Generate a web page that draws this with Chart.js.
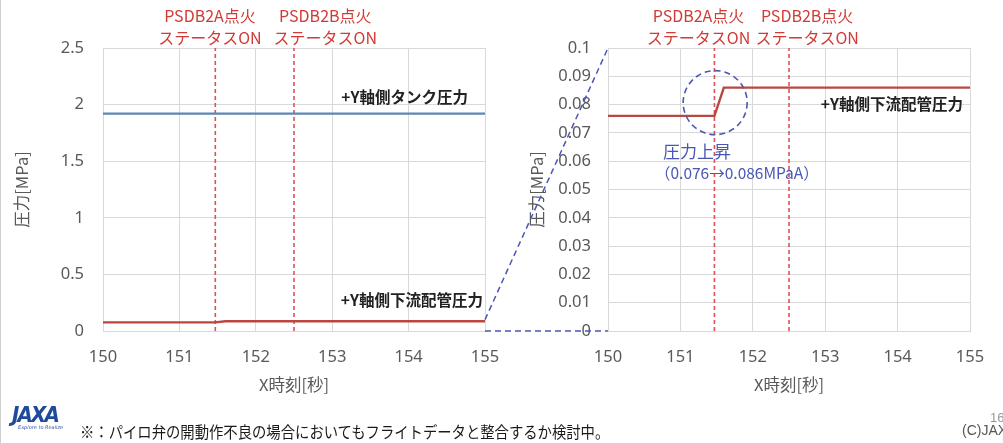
<!DOCTYPE html>
<html>
<head>
<meta charset="utf-8">
<script src="https://cdn.jsdelivr.net/npm/chart.js@4/dist/chart.umd.min.js"></script>
<style>
  html, body { margin: 0; padding: 0; background: #fff; }
  body { width: 1003px; height: 443px; position: relative; overflow: hidden;
         font-family: "Noto Sans CJK JP", "Noto Sans", sans-serif; }
  .frame { position: absolute; left: 0; top: 0; width: 1px; height: 443px; background: #cfcfcf; }
  #leftCanvas { position: absolute; left: 0; top: 0; }
  #rightCanvas { position: absolute; left: 490px; top: 0; }
  #overlay { position: absolute; left: 0; top: 0; pointer-events: none; }
  .logo { position: absolute; left: 12px; top: 402px; color: #1f4a9c; }
  .logo .mark { font: italic 900 22px "DejaVu Sans", sans-serif; letter-spacing: -2px; transform: scaleX(0.9); transform-origin: left; display: block; }
  .logo .tag { font: italic 5px "DejaVu Sans", sans-serif; color: #3a5aa8; display: block; margin-top: -3px; margin-left: 6px; }
  .note { position: absolute; left: 80px; top: 419px; font-size: 16px; color: #1a1a1a;
          white-space: nowrap; transform: scaleX(0.896); transform-origin: left center; }
  .copy { position: absolute; left: 962px; top: 422px; font: 14px "Liberation Sans Narrow", "Liberation Sans", sans-serif; color: #555; white-space: nowrap; }
  .page { position: absolute; left: 990px; top: 410px; font: 13px "Liberation Sans Narrow", "Liberation Sans", sans-serif; color: #999; }
</style>
</head>
<body>
<div class="frame"></div>
<canvas id="leftCanvas" width="500" height="443"></canvas>
<canvas id="rightCanvas" width="513" height="443"></canvas>
<canvas id="overlay" width="1003" height="443"></canvas>
<div class="logo"><span class="mark">JAXA</span><span class="tag">Explore to Realize</span></div>
<div class="note">※：パイロ弁の開動作不良の場合においてもフライトデータと整合するか検討中。</div>
<div class="copy">(C)JAXA</div>
<div class="page">16</div>

<script>
// ---- data ----
const timeTank = [150, 155];
const tankPressure = [1.92, 1.92];                 // +Y軸側タンク圧力 [MPa]
const timePipe = [150, 151.47, 151.6, 155];
const pipePressure = [0.076, 0.076, 0.086, 0.086]; // +Y軸側下流配管圧力 [MPa]
const ignitionTimes = [151.47, 152.5];             // PSDB2A / PSDB2B 点火ステータスON
const ignitionNames = ['PSDB2A点火', 'PSDB2B点火'];
const xTicks = [150, 151, 152, 153, 154, 155];
const leftYTicks = [0, 0.5, 1, 1.5, 2, 2.5];
const rightYTicks = [0, 0.01, 0.02, 0.03, 0.04, 0.05, 0.06, 0.07, 0.08, 0.09, 0.1];
const zoomRangeY = [0, 0.1];                       // range shown enlarged on the right
const riseFrom = 0.076, riseTo = 0.086;

// ---- styles ----
const GRID = '#d9d9d9';
const TICK = '#595959';
const RED_LINE = '#b9473f';
const BLUE_LINE = '#5b87b4';
const EVENT_RED = '#e0505a';
const LABEL_RED = '#d23b35';
const ZOOM_BLUE = '#4a56b4';
const tickFont = { family: '"Noto Sans", sans-serif', size: 16.5 };
const titleFont = { family: '"Noto Sans CJK JP", sans-serif', size: 16.5 };

const pts = (xs, ys) => xs.map((x, i) => ({ x, y: ys[i] }));
const fmt = v => String(Math.round(v * 1000) / 1000);

function eventSets(yMax) {
  return ignitionTimes.map(t => ({
    data: [{ x: t, y: 0 }, { x: t, y: yMax }],
    borderColor: EVENT_RED, borderWidth: 1.6, borderDash: [4, 3],
    pointRadius: 0, tension: 0, order: 5
  }));
}

// draws free text and shapes on top of each chart
const notesPlugin = {
  id: 'notes',
  afterDatasetsDraw(chart, args, opts) {
    const ctx = chart.ctx, xs = chart.scales.x, ys = chart.scales.y;
    ctx.save();
    (opts.texts || []).forEach(n => {
      ctx.font = n.font;
      ctx.fillStyle = n.color;
      ctx.textAlign = n.align || 'center';
      ctx.textBaseline = 'middle';
      const px = n.px != null ? n.px : xs.getPixelForValue(n.x);
      const py = n.py != null ? n.py : ys.getPixelForValue(n.y);
      n.lines.forEach((line, i) => ctx.fillText(line, px, py + i * (n.lh || 0)));
    });
    (opts.circles || []).forEach(c => {
      ctx.beginPath();
      ctx.strokeStyle = c.color;
      ctx.lineWidth = 1.6;
      ctx.setLineDash([6, 4]);
      ctx.arc(xs.getPixelForValue(c.x), ys.getPixelForValue(c.y), c.r, 0, Math.PI * 2);
      ctx.stroke();
    });
    ctx.restore();
  }
};

function makeChart(canvas, cfg) {
  return new Chart(canvas, {
    type: 'line',
    data: { datasets: cfg.datasets },
    plugins: [notesPlugin],
    options: {
      responsive: false,
      animation: false,
      events: [],
      layout: { padding: { left: 0, right: cfg.padRight, top: 48, bottom: 42 } },
      plugins: { legend: { display: false }, tooltip: { enabled: false }, notes: cfg.notes },
      scales: {
        x: {
          type: 'linear', min: 150, max: 155,
          afterBuildTicks: s => { s.ticks = xTicks.map(v => ({ value: v })); },
          afterFit: s => { s.height = 70; s.paddingLeft = 0; s.paddingRight = 0; },
          grid: { color: GRID, drawTicks: false, lineWidth: 1 },
          border: { color: GRID },
          ticks: { color: TICK, font: tickFont, padding: 16, maxRotation: 0, autoSkip: false, callback: fmt },
          title: { display: true, text: 'X時刻[秒]', color: TICK, font: titleFont, padding: { top: 0, bottom: 6 } }
        },
        y: {
          type: 'linear', min: cfg.yTicks[0], max: cfg.yTicks[cfg.yTicks.length - 1],
          afterBuildTicks: s => { s.ticks = cfg.yTicks.map(v => ({ value: v })); },
          afterFit: s => { s.width = cfg.yWidth; s.paddingTop = 0; s.paddingBottom = 0; },
          grid: { color: GRID, drawTicks: false, lineWidth: 1 },
          border: { color: GRID },
          ticks: { color: TICK, font: tickFont, padding: cfg.yPad, autoSkip: false, callback: fmt },
          title: { display: true, text: '圧力[MPa]', color: TICK, font: titleFont, padding: { top: cfg.yTitlePad, bottom: 0 } }
        }
      }
    }
  });
}

const labelFont = '16px "Noto Sans CJK JP", sans-serif';
const seriesFont = 'bold 15.5px "Noto Sans CJK JP", sans-serif';

const leftChart = makeChart(document.getElementById('leftCanvas'), {
  padRight: 15, yWidth: 103, yPad: 19, yTitlePad: 12, yTicks: leftYTicks,
  datasets: [
    ...eventSets(2.5),
    { data: pts(timeTank, tankPressure), borderColor: BLUE_LINE, borderWidth: 2.2, pointRadius: 0, tension: 0, order: 1 },
    { data: pts(timePipe, pipePressure), borderColor: RED_LINE, borderWidth: 2.4, pointRadius: 0, tension: 0, order: 1 }
  ],
  notes: {
    texts: [
      { lines: [ignitionNames[0], 'ステータスON'], x: 151.4, py: 16, lh: 22, font: labelFont, color: LABEL_RED },
      { lines: [ignitionNames[1], 'ステータスON'], x: 152.91, py: 16, lh: 22, font: labelFont, color: LABEL_RED },
      { lines: ['+Y軸側タンク圧力'], px: 468, py: 97, font: seriesFont, color: '#222', align: 'right' },
      { lines: ['+Y軸側下流配管圧力'], px: 483, py: 300, font: seriesFont, color: '#222', align: 'right' }
    ]
  }
});

const rightChart = makeChart(document.getElementById('rightCanvas'), {
  padRight: 33, yWidth: 118, yPad: 17, yTitlePad: 37, yTicks: rightYTicks,
  datasets: [
    ...eventSets(0.1),
    { data: pts(timePipe, pipePressure), borderColor: RED_LINE, borderWidth: 2.4, pointRadius: 0, tension: 0, order: 1 }
  ],
  notes: {
    texts: [
      { lines: [ignitionNames[0], 'ステータスON'], x: 151.25, py: 16, lh: 22, font: labelFont, color: LABEL_RED },
      { lines: [ignitionNames[1], 'ステータスON'], x: 152.75, py: 16, lh: 22, font: labelFont, color: LABEL_RED },
      { lines: ['+Y軸側下流配管圧力'], px: 473, py: 104, font: seriesFont, color: '#222', align: 'right' },
      { lines: ['圧力上昇'], px: 173, py: 152, font: '17px "Noto Sans CJK JP", sans-serif', color: ZOOM_BLUE, align: 'left' },
      { lines: ['（' + riseFrom + '→' + riseTo + 'MPaA）'], px: 165, py: 173, font: '15.5px "Noto Sans CJK JP", sans-serif', color: ZOOM_BLUE, align: 'left' }
    ],
    circles: [{ x: 151.48, y: 0.0807, r: 32, color: ZOOM_BLUE }]
  }
});

// dashed guides linking the low-pressure band of the left chart to the enlarged chart
(function drawZoomGuides() {
  const ctx = document.getElementById('overlay').getContext('2d');
  const rightOffset = 490;
  const lx = leftChart.scales.x.getPixelForValue(155);
  const rx = rightChart.scales.x.getPixelForValue(150) + rightOffset;
  ctx.strokeStyle = ZOOM_BLUE;
  ctx.lineWidth = 1.5;
  ctx.setLineDash([6, 4]);
  zoomRangeY.forEach(v => {
    ctx.beginPath();
    ctx.moveTo(lx, leftChart.scales.y.getPixelForValue(v));
    ctx.lineTo(rx, rightChart.scales.y.getPixelForValue(v));
    ctx.stroke();
  });
})();
</script>
</body>
</html>
